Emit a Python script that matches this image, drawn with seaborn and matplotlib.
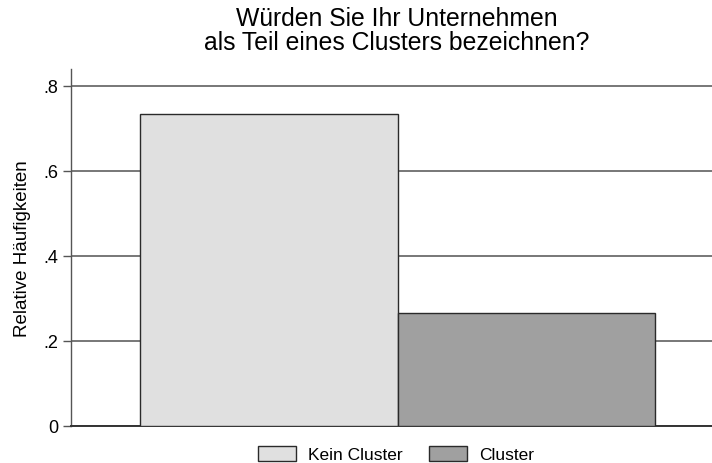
import matplotlib
matplotlib.use("Agg")
import matplotlib.pyplot as plt
import seaborn as sns
import pandas as pd

categories = ["Kein Cluster", "Cluster"]
values = [0.734, 0.266]
colors = ["#e0e0e0", "#a0a0a0"]
yticks = [0, 0.2, 0.4, 0.6, 0.8]
ytick_labels = ["0", ".2", ".4", ".6", ".8"]

sns.set_style("white")
plt.rcParams["font.family"] = ["Liberation Sans", "DejaVu Sans"]
plt.rcParams["text.color"] = "black"
plt.rcParams["axes.labelcolor"] = "black"
plt.rcParams["ytick.color"] = "black"

df = pd.DataFrame({"cat": categories, "val": values})

fig = plt.figure(figsize=(7.12, 4.64), dpi=100)
ax = fig.add_axes([71/712, 37/464, 1 - 71/712, (427 - 70)/464])

sns.barplot(data=df, x="cat", y="val", hue="cat", palette=colors, width=1.0,
            edgecolor="#2a2a2a", linewidth=1.0, ax=ax, legend=True, zorder=3)

ax.set_xlim(-0.768, 1.721)
ax.set_ylim(0, 0.84)
ax.set_yticks(yticks)
ax.set_yticklabels(ytick_labels, fontsize=13)
ax.yaxis.grid(True, color="#777777", linewidth=1.4, zorder=0)
ax.xaxis.grid(False)
ax.set_axisbelow(True)
ax.set_xticks([])
ax.set_xlabel("")
ax.set_ylabel("Relative Häufigkeiten", fontsize=13.5, labelpad=9)
ax.tick_params(axis="y", left=True, length=6, width=1.0, color="#555555", pad=3)

for s in ["top", "right"]:
    ax.spines[s].set_visible(False)
ax.spines["left"].set_color("#555555")
ax.spines["left"].set_linewidth(1.0)
ax.spines["bottom"].set_color("#333333")
ax.spines["bottom"].set_linewidth(1.4)

fig.text(397/712, 1 - 31/464, "Würden Sie Ihr Unternehmen\nals Teil eines Clusters bezeichnen?",
         ha="center", va="center", fontsize=17.8, linespacing=0.98, color="black")

leg = ax.get_legend()
handles = leg.legend_handles
leg.remove()
fig.legend(handles, categories, loc="center", bbox_to_anchor=(396/712, 1 - 455/464),
           ncol=2, frameon=False, fontsize=12.5, handlelength=2.2, handleheight=0.95,
           columnspacing=1.5, handletextpad=0.7)

fig.savefig("out.png", dpi=100)
